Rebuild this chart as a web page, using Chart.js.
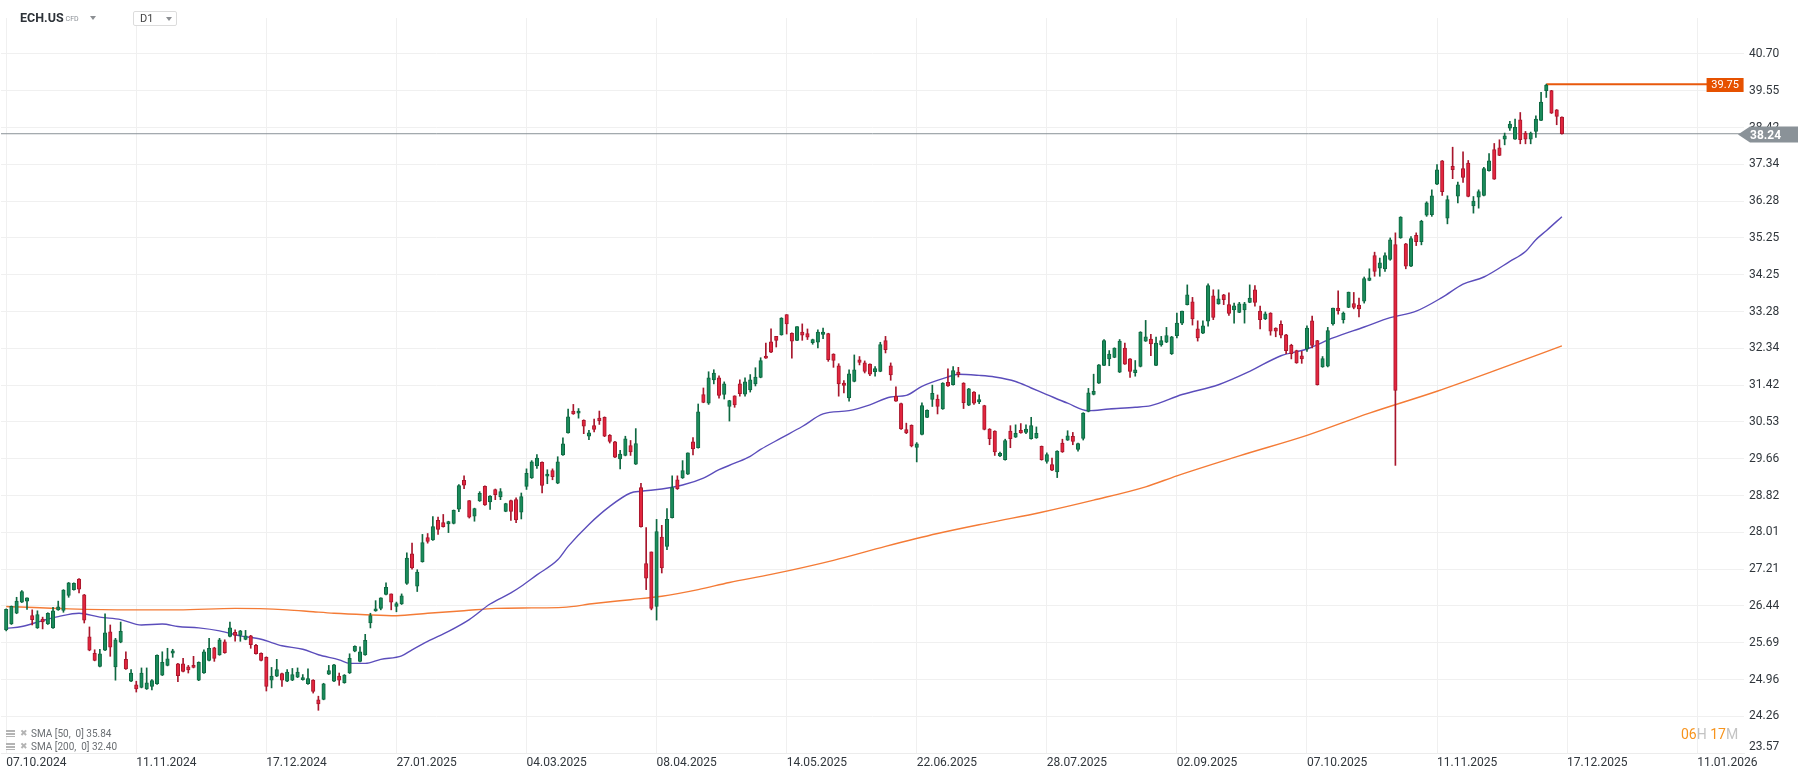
<!DOCTYPE html>
<html>
<head>
<meta charset="utf-8">
<title>ECH.US D1</title>
<script src="https://cdn.jsdelivr.net/npm/chart.js@4.4.1/dist/chart.umd.min.js"></script>
<style>
    html, body { margin: 0; padding: 0; background: #fff; }
    body { width: 1810px; height: 779px; position: relative; overflow: hidden; font-family: Roboto, "Noto Sans", sans-serif; }
    #chart-wrap { position: absolute; left: 0; top: 0; width: 1810px; height: 779px; }
    .symbol { position: absolute; left: 20px; top: 11px; height: 14px; line-height: 14px; font-size: 12.5px; font-weight: bold; color: #2d3238; white-space: nowrap; }
    .symbol .cfd { font-size: 7px; font-weight: normal; color: #8a8f95; margin-left: 2px; vertical-align: 1px; }
    .caret { display: inline-block; width: 0; height: 0; border-left: 3.5px solid transparent; border-right: 3.5px solid transparent; border-top: 4px solid #8c8f93; }
    .symbol .caret { position: absolute; left: 70px; top: 5px; }
    .timeframe { position: absolute; left: 133px; top: 11px; width: 42px; height: 13px; border: 1px solid #dcdcdc; border-radius: 2px; background: #fff; font-size: 11px; line-height: 13px; color: #444; }
    .timeframe span.t { position: absolute; left: 6px; top: 0; }
    .timeframe .caret { position: absolute; left: 32px; top: 5px; }
    .legend { position: absolute; left: 6px; top: 727px; font-size: 10px; color: #6b6f73; line-height: 13px; }
    .legend .row { position: relative; height: 13px; white-space: nowrap; }
    .legend .ico { position: absolute; left: 0; top: 3px; width: 9px; height: 7px; background: repeating-linear-gradient(#b4b4b4 0 2px, #fff 2px 3px); }
    .legend .del { position: absolute; left: 14px; top: 0; font-size: 9px; color: #b4b4b4; font-family: "DejaVu Sans", sans-serif; }
    .legend .txt { position: absolute; left: 25px; top: 0; }
    .timer { position: absolute; left: 1681px; top: 726px; font-size: 14px; line-height: 16px; color: #c3c3c3; white-space: nowrap; }
    .timer .n { color: #f7941d; }
</style>
</head>
<body>
<div id="chart-wrap"><canvas id="candles"></canvas></div>

<div class="symbol">ECH.US<span class="cfd">CFD</span><span class="caret"></span></div>
<div class="timeframe"><span class="t">D1</span><span class="caret"></span></div>

<div class="legend">
    <div class="row"><span class="ico"></span><span class="del">✖</span><span class="txt">SMA [50,&nbsp; 0] 35.84</span></div>
    <div class="row"><span class="ico"></span><span class="del">✖</span><span class="txt">SMA [200,&nbsp; 0] 32.40</span></div>
</div>

<div class="timer"><span class="n">06</span>H <span class="n">17</span>M</div>

<script>
/**
 * ECH.US daily candles with SMA 50 / SMA 200.
 * Bar slot 1 is 07.10.2024, one slot per trading day, empty slots run on to the right edge.
 */

const slotCount = 336;

// OHLC for slots 1 .. 300
const opens = [
    25.95, 26.07, 26.29, 26.52, 26.54, 26.24, 25.99, 26.17, 26.07, 25.99,
    26.36, 26.35, 26.66, 26.78, 27.00, 26.67, 25.81, 25.48, 25.22, 25.54,
    25.91, 25.21, 25.70, 25.36, 24.93, 24.86, 24.81, 24.78, 24.83, 24.88,
    25.05, 25.24, 25.48, 25.27, 25.27, 25.21, 25.24, 24.95, 25.09, 25.34,
    25.59, 25.45, 25.71, 25.82, 25.90, 25.84, 25.76, 25.83, 25.64, 25.48,
    25.40, 24.95, 25.03, 25.08, 24.93, 24.95, 25.01, 24.96, 24.88, 24.95,
    24.57, 24.58, 25.07, 24.93, 25.03, 24.90, 25.09, 25.52, 25.32, 25.45,
    26.09, 26.34, 26.39, 26.68, 26.69, 26.43, 26.48, 26.91, 27.54, 26.85,
    27.37, 27.89, 27.84, 28.27, 28.22, 28.19, 28.20, 28.52, 29.17, 28.71,
    28.36, 28.70, 29.03, 28.68, 28.96, 28.79, 28.47, 28.71, 28.73, 28.45,
    29.03, 29.22, 29.50, 29.58, 29.26, 29.39, 29.10, 29.75, 30.27, 30.79,
    30.74, 30.57, 30.19, 30.44, 30.62, 30.64, 30.21, 30.06, 29.66, 29.74,
    29.97, 29.54, 29.00, 27.33, 27.58, 26.43, 27.90, 27.70, 28.33, 29.18,
    29.22, 29.31, 30.06, 29.92, 31.19, 30.98, 31.55, 31.60, 31.19, 30.90,
    31.16, 31.45, 31.20, 31.30, 31.45, 31.61, 32.14, 32.50, 32.64, 32.68,
    33.20, 32.72, 32.54, 32.75, 32.71, 32.48, 32.49, 32.69, 32.71, 32.19,
    31.90, 31.47, 31.11, 31.51, 32.05, 31.97, 31.94, 31.75, 31.76, 32.53,
    31.90, 31.15, 30.97, 30.35, 30.45, 29.93, 30.23, 30.64, 31.07, 31.08,
    30.84, 31.49, 31.43, 31.74, 31.47, 30.93, 31.25, 31.01, 30.92, 30.36,
    30.31, 29.73, 29.64, 30.31, 30.17, 30.33, 30.28, 30.13, 30.15, 29.95,
    29.60, 29.53, 29.36, 30.03, 30.10, 30.19, 29.88, 30.14, 30.78, 31.19,
    31.47, 31.91, 32.07, 32.11, 31.74, 32.34, 32.07, 31.73, 31.88, 32.52,
    32.57, 31.91, 32.42, 32.49, 32.20, 32.66, 32.98, 33.46, 33.53, 32.83,
    32.72, 33.03, 33.69, 33.48, 33.72, 33.46, 33.32, 33.26, 33.32, 33.52,
    33.85, 33.29, 33.09, 33.24, 32.85, 32.95, 32.68, 32.41, 32.28, 32.15,
    32.32, 33.04, 32.53, 31.87, 31.89, 32.96, 33.37, 33.07, 33.39, 33.49,
    33.45, 33.55, 34.10, 34.77, 34.43, 34.41, 34.66, 35.07, 35.25, 35.09,
    34.48, 35.32, 35.15, 35.88, 35.90, 36.76, 37.44, 35.80, 37.28, 36.42,
    37.21, 37.37, 36.14, 36.39, 36.44, 37.15, 37.77, 37.82, 38.08, 38.41,
    38.08, 38.66, 38.26, 38.08, 38.31, 38.64, 39.55, 39.55, 38.96, 38.74
];

const highs = [
    26.38, 26.44, 26.62, 26.76, 26.61, 26.36, 26.34, 26.21, 26.30, 26.41,
    26.54, 26.78, 26.93, 26.92, 27.01, 26.68, 26.01, 25.55, 25.56, 26.28,
    26.05, 25.78, 26.11, 25.51, 25.16, 24.93, 25.19, 25.19, 24.96, 25.45,
    25.51, 25.58, 25.56, 25.28, 25.38, 25.24, 25.42, 25.31, 25.55, 25.78,
    25.60, 25.78, 25.75, 26.11, 25.95, 25.94, 25.94, 25.84, 25.66, 25.49,
    25.41, 25.20, 25.36, 25.09, 25.16, 25.18, 25.19, 25.06, 25.17, 24.96,
    24.64, 24.89, 25.24, 25.26, 25.09, 25.06, 25.47, 25.63, 25.61, 25.86,
    26.29, 26.55, 26.61, 26.92, 26.69, 26.52, 26.69, 27.56, 27.77, 27.20,
    27.96, 27.98, 28.35, 28.34, 28.40, 28.25, 28.50, 29.07, 29.27, 28.71,
    28.54, 28.91, 29.04, 28.82, 28.97, 28.98, 28.65, 28.72, 28.77, 28.88,
    29.43, 29.62, 29.76, 29.59, 29.41, 29.43, 29.71, 30.15, 30.84, 30.95,
    30.85, 30.58, 30.33, 30.60, 30.79, 30.65, 30.23, 30.07, 29.86, 30.19,
    30.09, 30.37, 29.10, 28.11, 27.58, 28.29, 28.16, 28.53, 29.27, 29.27,
    29.62, 29.80, 30.16, 30.96, 31.35, 31.75, 31.80, 31.65, 31.50, 31.05,
    31.16, 31.55, 31.60, 31.68, 31.85, 32.10, 32.47, 32.83, 32.64, 33.12,
    33.20, 32.73, 32.89, 32.96, 32.83, 32.57, 32.81, 32.85, 32.72, 32.20,
    31.95, 31.53, 31.80, 32.17, 32.13, 32.02, 31.95, 31.88, 32.49, 32.64,
    31.97, 31.38, 30.98, 30.50, 30.46, 30.04, 30.99, 30.82, 31.42, 31.18,
    31.48, 31.82, 31.88, 31.86, 31.48, 31.34, 31.26, 31.18, 30.93, 30.37,
    30.32, 29.82, 30.12, 30.44, 30.46, 30.49, 30.46, 30.64, 30.41, 29.96,
    29.80, 29.68, 29.85, 30.12, 30.32, 30.28, 30.03, 30.75, 31.34, 31.69,
    31.93, 32.56, 32.28, 32.35, 32.56, 32.47, 32.08, 32.03, 32.76, 33.05,
    32.69, 32.62, 32.64, 32.87, 32.64, 33.24, 33.29, 33.98, 33.65, 33.04,
    33.04, 34.01, 33.85, 33.85, 33.73, 33.77, 33.50, 33.52, 33.52, 33.98,
    33.96, 33.42, 33.27, 33.25, 32.86, 33.04, 32.69, 32.44, 32.29, 32.26,
    32.91, 33.16, 32.54, 32.13, 32.87, 33.37, 33.82, 33.27, 33.79, 33.78,
    33.63, 34.19, 34.41, 34.86, 34.70, 34.84, 35.25, 35.39, 35.84, 35.10,
    35.29, 35.39, 35.74, 36.26, 36.60, 37.33, 37.45, 36.43, 37.84, 36.82,
    37.70, 37.45, 36.41, 36.60, 37.25, 37.65, 37.95, 38.06, 38.26, 38.61,
    38.68, 38.88, 38.31, 38.29, 38.78, 39.50, 39.75, 39.56, 38.97, 38.75
];

const lows = [
    25.93, 26.06, 26.28, 26.51, 26.37, 26.05, 25.98, 25.97, 26.06, 25.98,
    26.35, 26.31, 26.62, 26.77, 26.71, 26.09, 25.53, 25.33, 25.21, 25.53,
    25.42, 24.95, 25.69, 25.16, 24.92, 24.72, 24.80, 24.77, 24.76, 24.87,
    25.04, 25.23, 25.40, 24.92, 25.11, 25.09, 25.19, 24.94, 25.08, 25.33,
    25.32, 25.44, 25.48, 25.81, 25.72, 25.72, 25.75, 25.58, 25.46, 25.33,
    24.74, 24.80, 25.02, 24.83, 24.92, 24.94, 25.00, 24.95, 24.87, 24.70,
    24.37, 24.57, 25.06, 24.92, 24.85, 24.89, 25.08, 25.51, 25.31, 25.44,
    25.99, 26.33, 26.36, 26.67, 26.36, 26.32, 26.47, 26.89, 27.21, 26.74,
    27.36, 27.77, 27.83, 27.96, 28.12, 28.00, 28.19, 28.46, 28.98, 28.32,
    28.25, 28.69, 28.60, 28.51, 28.73, 28.73, 28.46, 28.27, 28.22, 28.30,
    28.96, 29.21, 29.44, 28.88, 29.09, 29.18, 29.09, 29.74, 30.26, 30.71,
    30.62, 30.25, 30.11, 30.29, 30.47, 30.18, 30.03, 29.69, 29.43, 29.73,
    29.74, 29.53, 28.12, 26.78, 26.36, 26.15, 27.13, 27.63, 28.32, 28.96,
    29.21, 29.30, 29.75, 29.91, 30.99, 30.95, 31.45, 31.10, 31.08, 30.55,
    30.88, 31.15, 31.15, 31.25, 31.40, 31.60, 32.08, 32.23, 32.37, 32.67,
    32.70, 32.09, 32.53, 32.54, 32.56, 32.44, 32.35, 32.58, 32.01, 31.86,
    31.15, 31.23, 31.03, 31.50, 31.92, 31.72, 31.65, 31.64, 31.75, 32.22,
    31.54, 31.02, 30.35, 30.25, 29.94, 29.59, 30.22, 30.63, 30.90, 30.72,
    30.83, 31.39, 31.42, 31.62, 30.85, 30.92, 30.95, 30.97, 30.34, 29.99,
    29.74, 29.71, 29.63, 29.92, 30.16, 30.26, 30.25, 30.12, 30.14, 29.63,
    29.56, 29.39, 29.23, 29.81, 30.09, 29.99, 29.84, 30.10, 30.77, 31.18,
    31.46, 31.90, 31.90, 32.10, 31.73, 31.93, 31.61, 31.64, 31.87, 32.51,
    32.15, 31.90, 32.39, 32.48, 32.18, 32.60, 32.94, 33.45, 32.93, 32.52,
    32.71, 32.90, 33.07, 33.47, 33.46, 33.18, 32.98, 33.25, 32.98, 33.51,
    33.42, 32.83, 33.07, 32.67, 32.63, 32.60, 32.20, 32.07, 31.96, 31.96,
    32.26, 32.35, 31.42, 31.86, 31.87, 32.93, 33.21, 32.98, 33.38, 33.35,
    33.14, 33.50, 34.09, 34.21, 34.21, 34.34, 34.64, 29.51, 35.24, 34.41,
    34.47, 35.04, 35.06, 35.85, 35.85, 36.75, 36.44, 35.64, 36.92, 36.23,
    36.81, 36.40, 35.94, 36.08, 36.43, 37.14, 36.90, 37.59, 37.91, 38.34,
    38.07, 37.94, 37.94, 37.94, 38.13, 38.63, 39.34, 38.85, 38.51, 38.23
];

const closes = [
    26.37, 26.43, 26.54, 26.74, 26.61, 26.16, 26.26, 26.11, 26.29, 26.34,
    26.42, 26.77, 26.92, 26.91, 26.79, 26.15, 25.54, 25.34, 25.47, 25.89,
    25.60, 25.75, 25.92, 25.17, 25.09, 24.78, 25.09, 24.90, 24.94, 25.44,
    25.30, 25.37, 25.53, 25.04, 25.12, 25.15, 25.20, 25.30, 25.51, 25.58,
    25.38, 25.75, 25.49, 25.99, 25.84, 25.93, 25.83, 25.65, 25.47, 25.34,
    24.83, 25.03, 25.16, 24.95, 25.11, 25.06, 25.11, 25.00, 24.98, 24.73,
    24.49, 24.88, 25.14, 25.25, 24.95, 25.05, 25.38, 25.62, 25.51, 25.74,
    26.24, 26.38, 26.61, 26.83, 26.52, 26.49, 26.65, 27.45, 27.24, 27.15,
    27.78, 27.81, 28.13, 28.07, 28.13, 28.24, 28.49, 29.05, 29.06, 28.34,
    28.53, 28.87, 28.61, 28.81, 28.84, 28.91, 28.64, 28.47, 28.28, 28.80,
    29.33, 29.59, 29.68, 29.05, 29.31, 29.25, 29.59, 30.01, 30.65, 30.72,
    30.79, 30.43, 30.27, 30.35, 30.56, 30.19, 30.07, 29.70, 29.77, 30.13,
    29.82, 30.02, 28.13, 27.02, 26.39, 28.02, 27.24, 28.29, 29.00, 28.98,
    29.39, 29.80, 29.89, 30.77, 31.00, 31.60, 31.72, 31.17, 31.45, 31.04,
    30.94, 31.21, 31.50, 31.55, 31.62, 32.03, 32.09, 32.24, 32.54, 33.11,
    32.96, 32.52, 32.89, 32.67, 32.62, 32.56, 32.75, 32.75, 32.05, 32.03,
    31.45, 31.41, 31.70, 31.80, 31.98, 31.76, 31.69, 31.83, 32.43, 32.30,
    31.67, 31.03, 30.36, 30.27, 29.96, 30.01, 30.92, 30.81, 31.22, 30.90,
    31.47, 31.40, 31.78, 31.68, 30.99, 31.33, 30.98, 31.07, 30.35, 30.13,
    29.82, 29.79, 30.09, 30.13, 30.26, 30.27, 30.36, 30.44, 30.26, 29.64,
    29.76, 29.40, 29.84, 29.82, 30.20, 30.07, 30.02, 30.74, 31.23, 31.27,
    31.92, 32.53, 32.19, 32.34, 32.52, 31.94, 31.76, 31.80, 32.75, 32.63,
    32.45, 32.47, 32.53, 32.66, 32.63, 32.98, 33.29, 33.72, 33.09, 32.60,
    32.91, 33.96, 33.13, 33.61, 33.59, 33.23, 33.43, 33.48, 33.48, 33.63,
    33.52, 33.07, 33.22, 32.77, 32.77, 32.67, 32.28, 32.20, 31.97, 32.07,
    32.85, 32.41, 31.43, 32.08, 32.79, 33.37, 33.30, 33.24, 33.79, 33.39,
    33.35, 34.15, 34.17, 34.34, 34.57, 34.77, 35.20, 31.29, 35.83, 34.48,
    35.23, 35.15, 35.71, 36.23, 36.43, 37.18, 36.55, 36.32, 37.18, 36.74,
    36.96, 36.41, 36.28, 36.55, 37.21, 37.44, 36.91, 37.60, 38.18, 38.53,
    38.43, 38.06, 38.08, 38.26, 38.68, 39.20, 39.72, 38.86, 38.76, 38.24
];

// moving averages, read at a few bar slots each
const sma50Bars = [
    1, 4, 8, 11, 15, 19, 23, 27, 31, 34, 38, 42, 46, 50, 54, 58, 61, 65, 67, 70,
    73, 77, 79, 82, 86, 90, 94, 98, 100, 103, 107, 109, 113, 117, 121, 123, 127, 131, 135, 138,
    141, 144, 146, 150, 154, 158, 163, 167, 171, 174, 177, 182, 184, 188, 191, 195, 198, 201, 205, 209,
    213, 218, 221, 227, 234, 240, 246, 251, 256, 262, 267, 272, 277, 281, 285, 290, 293, 295, 297, 300
];
const sma50Values = [
    25.98, 26.02, 26.14, 26.22, 26.29, 26.21, 26.16, 26.05, 26.07, 26.02, 25.99, 25.93, 25.83, 25.76, 25.63, 25.56, 25.45, 25.35, 25.28, 25.28,
    25.36, 25.43, 25.55, 25.72, 25.92, 26.16, 26.48, 26.71, 26.85, 27.09, 27.41, 27.70, 28.18, 28.58, 28.88, 28.92, 28.97, 29.06, 29.22, 29.41,
    29.56, 29.72, 29.88, 30.15, 30.42, 30.72, 30.80, 30.94, 31.13, 31.17, 31.39, 31.62, 31.69, 31.66, 31.62, 31.51, 31.35, 31.19, 30.98, 30.80,
    30.84, 30.88, 30.92, 31.19, 31.43, 31.76, 32.15, 32.32, 32.60, 32.88, 33.12, 33.29, 33.65, 34.00, 34.19, 34.61, 34.88, 35.20, 35.45, 35.84
];

const sma200Bars = [
    1, 13, 25, 34, 45, 55, 60, 64, 70, 76, 82, 89, 95, 102, 108, 114, 121, 127, 134, 140,
    148, 160, 170, 180, 190, 200, 210, 220, 226, 238, 251, 263, 276, 288, 300
];
const sma200Values = [
    26.43, 26.38, 26.36, 26.36, 26.39, 26.36, 26.32, 26.29, 26.26, 26.24, 26.29, 26.34, 26.39, 26.40, 26.41, 26.49, 26.57, 26.64, 26.78, 26.93,
    27.10, 27.40, 27.70, 27.98, 28.22, 28.45, 28.72, 29.02, 29.27, 29.73, 30.21, 30.74, 31.27, 31.82, 32.40
];

// x axis date labels and the bar slot each one sits on
const dateTickBars = [1, 26, 51, 76, 101, 126, 151, 176, 201, 226, 251, 276, 301, 326];
const dateTickLabels = [
    "07.10.2024", "11.11.2024", "17.12.2024", "27.01.2025", "04.03.2025", "08.04.2025", "14.05.2025",
    "22.06.2025", "28.07.2025", "02.09.2025", "07.10.2025", "11.11.2025", "17.12.2025", "11.01.2026"
];

// price axis ticks (log spaced)
const priceTicks = [
    23.57, 24.26, 24.96, 25.69, 26.44, 27.21, 28.01, 28.82, 29.66, 30.53,
    31.42, 32.34, 33.28, 34.25, 35.25, 36.28, 37.34, 38.42, 39.55, 40.70
];
const priceMin = 23.57;
const priceMax = 41.86;

const lastClose = 38.24;
const periodHigh = 39.75;
const periodHighBar = 297;
const periodHighEndBar = 328;

const upFill = "#1a8b5b";
const upEdge = "#0e6841";
const downFill = "#e2263e";
const downEdge = "#a8162c";

document.addEventListener("DOMContentLoaded", function () {
    if (typeof Chart === "undefined") {
        console.warn("Chart.js is not available.");
        return;
    }
    createCandleChart();
});

/**
 * Nudge the lowest price label up so it clears the date row
 */
const bottomLabelNudge = {
    id: "bottomLabelNudge",
    beforeDraw(chart) {
        const items = chart.scales.y.getLabelItems();
        items.forEach((item) => {
            if (item.label === priceMin.toFixed(2)) {
                const t = item.options.translation;
                item.options.translation = [t[0], t[1] - 6];
            }
        });
    },
};

/**
 * Price tags on the right: period high (orange) and last close (grey arrow)
 */
const priceTags = {
    id: "priceTags",
    afterDraw(chart) {
        const { ctx, chartArea } = chart;
        const y = chart.scales.y;
        ctx.save();

        // last close arrow tag
        const yc = Math.round(y.getPixelForValue(lastClose)) + 0.5;
        ctx.fillStyle = "#8a9298";
        ctx.beginPath();
        ctx.moveTo(chartArea.right - 6, yc);
        ctx.lineTo(chartArea.right + 6, yc - 8);
        ctx.lineTo(1798, yc - 8);
        ctx.lineTo(1798, yc + 8);
        ctx.lineTo(chartArea.right + 6, yc + 8);
        ctx.closePath();
        ctx.fill();
        ctx.fillStyle = "#ffffff";
        ctx.font = "bold 12px Roboto";
        ctx.textAlign = "left";
        ctx.textBaseline = "middle";
        ctx.fillText(lastClose.toFixed(2), chartArea.right + 6, yc + 1);

        // period high tag
        const yh = y.getPixelForValue(periodHigh);
        const xh = chart.scales.x.getPixelForValue(periodHighEndBar);
        ctx.fillStyle = "#e65100";
        ctx.fillRect(xh - 1, Math.round(yh) - 6, 37, 14);
        ctx.fillStyle = "#ffffff";
        ctx.font = "11px Roboto";
        ctx.textAlign = "center";
        ctx.fillText(periodHigh.toFixed(2), xh + 17.5, Math.round(yh) + 1.5);

        ctx.restore();
    },
};

/**
 * Build bar and line datasets from the arrays above
 */
function buildDatasets() {
    const isUp = closes.map((c, i) => c >= opens[i]);
    const bodyFill = isUp.map((up) => (up ? upFill : downFill));
    const edge = isUp.map((up) => (up ? upEdge : downEdge));

    return [
        {
            type: "bar",
            label: "Body",
            data: opens.map((o, i) => ({ x: i + 1, y: [o, closes[i]] })),
            backgroundColor: bodyFill,
            borderColor: edge,
            borderWidth: 1,
            borderSkipped: false,
            barThickness: 3.5,
            minBarLength: 1,
            grouped: false,
            order: 0,
        },
        {
            type: "bar",
            label: "Wick",
            data: lows.map((l, i) => ({ x: i + 1, y: [l, highs[i]] })),
            backgroundColor: edge,
            borderWidth: 0,
            barThickness: 1,
            grouped: false,
            order: 1,
        },
        {
            type: "line",
            label: "SMA 50",
            data: sma50Bars.map((b, i) => ({ x: b, y: sma50Values[i] })),
            borderColor: "#5b4dbb",
            borderWidth: 1.4,
            pointRadius: 0,
            cubicInterpolationMode: "monotone",
            order: 2,
        },
        {
            type: "line",
            label: "SMA 200",
            data: sma200Bars.map((b, i) => ({ x: b, y: sma200Values[i] })),
            borderColor: "#f47b36",
            borderWidth: 1.4,
            pointRadius: 0,
            cubicInterpolationMode: "monotone",
            order: 3,
        },
        {
            type: "line",
            label: "High",
            data: [
                { x: periodHighBar, y: periodHigh },
                { x: periodHighEndBar, y: periodHigh },
            ],
            borderColor: "#e8590c",
            borderWidth: 2,
            pointRadius: 0,
            order: 4,
        },
        {
            type: "line",
            label: "Last",
            data: [
                { x: 0, y: lastClose },
                { x: slotCount - 1, y: lastClose },
            ],
            borderColor: "#8a9298",
            borderWidth: 1,
            pointRadius: 0,
            order: 5,
        },
    ];
}

/**
 * Create the chart
 */
function createCandleChart() {
    const ctx = document.getElementById("candles");
    const slots = Array.from({ length: slotCount }, (_, i) => i);

    Chart.defaults.font.family = "Roboto";

    new Chart(ctx, {
        type: "bar",
        data: {
            labels: slots,
            datasets: buildDatasets(),
        },
        options: {
            responsive: true,
            maintainAspectRatio: false,
            animation: false,
            layout: {
                padding: { left: 1, top: 18, right: 0, bottom: 0 },
            },
            scales: {
                x: {
                    type: "category",
                    offset: false,
                    afterBuildTicks: (scale) => {
                        scale.ticks = dateTickBars.map((b) => ({ value: b }));
                    },
                    afterFit: (scale) => {
                        scale.height = 26;
                    },
                    ticks: {
                        autoSkip: false,
                        maxRotation: 0,
                        align: "start",
                        padding: 3,
                        color: "#30363c",
                        font: { size: 12 },
                        callback: (value) => dateTickLabels[dateTickBars.indexOf(value)],
                    },
                    grid: {
                        color: "#f0f0f0",
                        drawTicks: false,
                        offset: false,
                    },
                    border: { display: true, color: "#ececec" },
                },
                y: {
                    type: "logarithmic",
                    position: "right",
                    bounds: "data",
                    min: priceMin,
                    max: priceMax,
                    afterBuildTicks: (scale) => {
                        scale.ticks = priceTicks.map((v) => ({ value: v }));
                    },
                    afterFit: (scale) => {
                        scale.width = 66;
                    },
                    ticks: {
                        padding: 5,
                        color: "#30363c",
                        font: { size: 12 },
                        callback: (value) => Number(value).toFixed(2),
                    },
                    grid: {
                        color: "#f0f0f0",
                        drawTicks: false,
                    },
                    border: { display: false },
                },
            },
            plugins: {
                legend: { display: false },
                tooltip: { enabled: false },
            },
        },
        plugins: [bottomLabelNudge, priceTags],
    });
}
</script>
</body>
</html>
